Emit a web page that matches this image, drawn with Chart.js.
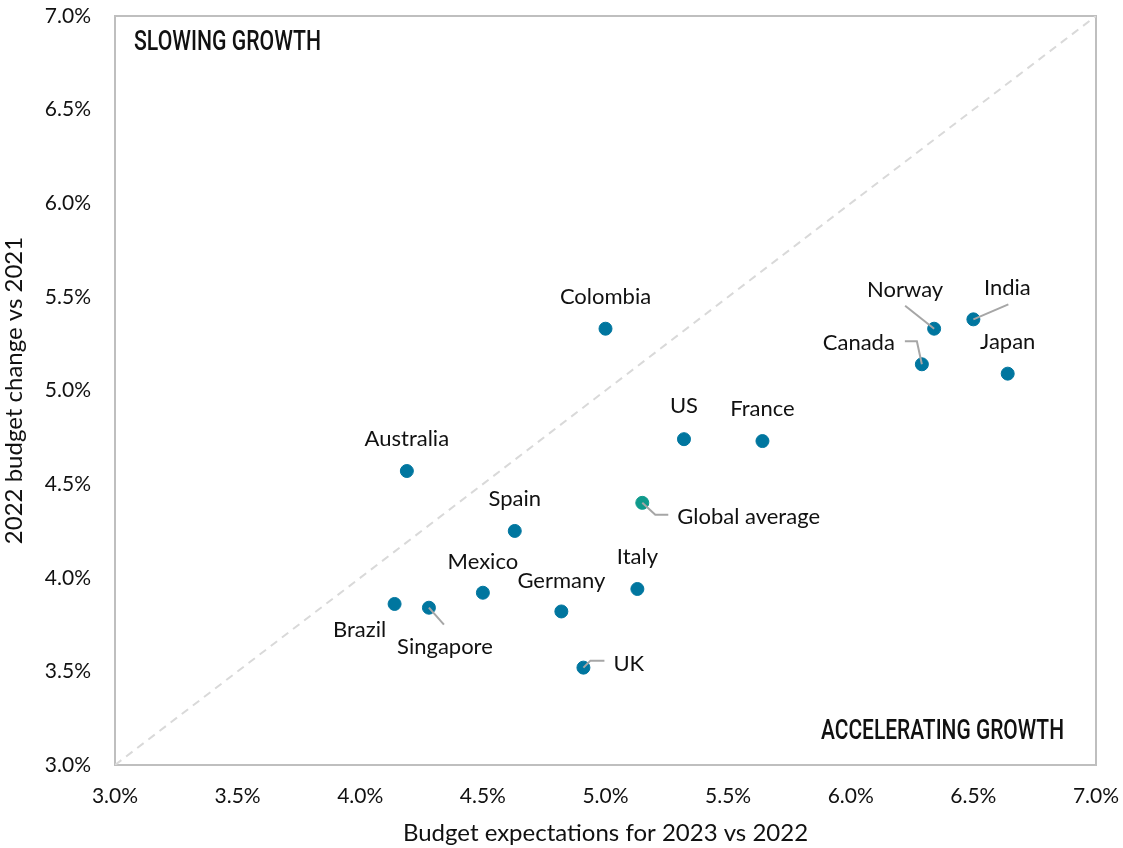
<!DOCTYPE html>
<html>
<head>
<meta charset="utf-8">
<script src="https://cdn.jsdelivr.net/npm/chart.js@4.4.1/dist/chart.umd.min.js"></script>
<style>
  html, body { margin: 0; padding: 0; background: #fff; }
  #wrap { width: 1123px; height: 848px; }
</style>
</head>
<body>
<div id="wrap"><canvas id="chart"></canvas></div>
<script>
// --- Dados ---
const countries = ['Colombia', 'Australia', 'Spain', 'Mexico', 'Brazil', 'Singapore', 'Germany', 'Italy', 'UK',
                   'US', 'France', 'Norway', 'India', 'Canada', 'Japan'];
const budget2023 = [5.00, 4.19, 4.63, 4.50, 4.14, 4.28, 4.82, 5.13, 4.91, 5.32, 5.64, 6.34, 6.50, 6.29, 6.64];
const change2022 = [5.33, 4.57, 4.25, 3.92, 3.86, 3.84, 3.82, 3.94, 3.52, 4.74, 4.73, 5.33, 5.38, 5.14, 5.09];
const globalLabel = 'Global average';
const globalX = [5.15];
const globalY = [4.40];
const axisTicks = [3.0, 3.5, 4.0, 4.5, 5.0, 5.5, 6.0, 6.5, 7.0];

const FONT = 'Lato, "Open Sans", sans-serif';
const BLUE = '#00769f';
const TEAL = '#0f9a8c';

// --- Posição dos rótulos (deslocamento em px a partir do ponto) ---
const labelPos = {
    'Colombia':  { dx: 0, dy: -32 },
    'Australia': { dx: 0, dy: -32 },
    'Spain':     { dx: 0, dy: -32 },
    'Mexico':    { dx: 0, dy: -31 },
    'Germany':   { dx: 0, dy: -31 },
    'Italy':     { dx: 0, dy: -32 },
    'US':        { dx: 0, dy: -33 },
    'France':    { dx: 0, dy: -32 },
    'Japan':     { dx: 0, dy: -32 },
    'Brazil':    { dx: -35, dy: 26 },
    'Singapore': { dx: 16, dy: 39, leader: [[0, 0], [15, 17]] },
    'UK':        { dx: 30, dy: -4, align: 'left', leader: [[0, 0], [7, -7], [21, -7]] },
    'Norway':    { dx: -29, dy: -39, leader: [[0, 0], [-29, -23]] },
    'India':     { dx: 34, dy: -31, leader: [[0, 0], [35, -15]] },
    'Canada':    { dx: -27, dy: -21, align: 'right', leader: [[0, 0], [-5, -23], [-17, -23]] },
    'Global average': { dx: 35, dy: 14, align: 'left', leader: [[0, 0], [13, 12], [26, 12]] }
};

// texto condensado: desenha com escala horizontal até a largura pedida
function condensedText(ctx, text, x, y, width, align) {
    const w = ctx.measureText(text).width;
    const k = width / w;
    ctx.save();
    ctx.translate(align === 'right' ? x - width : x, y);
    ctx.scale(k, 1);
    ctx.textAlign = 'left';
    ctx.fillText(text, 0, 0);
    ctx.restore();
}

const labelsPlugin = {
    id: 'labelsPlugin',
    beforeDatasetsDraw(chart) {
        const { ctx, chartArea: a } = chart;
        ctx.save();
        ctx.strokeStyle = '#bfbfbf';
        ctx.lineWidth = 2;
        ctx.strokeRect(a.left, a.top, a.right - a.left, a.bottom - a.top);
        ctx.restore();
    },
    afterDatasetsDraw(chart) {
        const { ctx, chartArea: a } = chart;
        ctx.save();
        // rótulos dos quadrantes
        ctx.fillStyle = '#111';
        ctx.font = '500 28px Roboto, sans-serif';
        ctx.textBaseline = 'middle';
        condensedText(ctx, 'SLOWING GROWTH', a.left + 19, a.top + 27, 187, 'left');
        condensedText(ctx, 'ACCELERATING GROWTH', a.right - 32, a.bottom - 33, 243, 'right');

        // rótulos dos pontos
        ctx.font = '22px ' + FONT;
        const drawLabel = (name, px, py) => {
            const p = labelPos[name] || { dx: 0, dy: -32 };
            if (p.leader) {
                ctx.strokeStyle = '#a6a6a6';
                ctx.lineWidth = 2;
                ctx.beginPath();
                p.leader.forEach(([lx, ly], i) => {
                    if (i === 0) ctx.moveTo(px + lx, py + ly);
                    else ctx.lineTo(px + lx, py + ly);
                });
                ctx.stroke();
            }
            ctx.fillStyle = '#111';
            ctx.textAlign = p.align || 'center';
            ctx.textBaseline = 'middle';
            ctx.fillText(name, px + p.dx, py + p.dy);
        };
        const m0 = chart.getDatasetMeta(0);
        m0.data.forEach((pt, i) => drawLabel(countries[i], pt.x, pt.y));
        const m1 = chart.getDatasetMeta(1);
        m1.data.forEach((pt, i) => drawLabel(globalLabel, pt.x, pt.y));
        ctx.restore();
    }
};

const ctx = document.getElementById('chart').getContext('2d');
const chart = new Chart(ctx, {
    type: 'scatter',
    data: {
        datasets: [
            {
                label: 'Countries',
                data: countries.map((c, i) => ({ x: budget2023[i], y: change2022[i] })),
                backgroundColor: BLUE,
                borderColor: BLUE,
                pointRadius: 6.5,
                pointHoverRadius: 6.5,
                order: 1
            },
            {
                label: globalLabel,
                data: globalX.map((x, i) => ({ x, y: globalY[i] })),
                backgroundColor: TEAL,
                borderColor: TEAL,
                pointRadius: 6.5,
                pointHoverRadius: 6.5,
                order: 1
            },
            {
                label: 'Parity',
                type: 'line',
                data: [{ x: axisTicks[0], y: axisTicks[0] }, { x: axisTicks[axisTicks.length - 1], y: axisTicks[axisTicks.length - 1] }],
                borderColor: '#d9d9d9',
                borderWidth: 2,
                borderDash: [8, 6],
                pointRadius: 0,
                fill: false,
                order: 5
            }
        ]
    },
    options: {
        responsive: true,
        maintainAspectRatio: false,
        animation: false,
        layout: { padding: { top: 16, right: 27, left: 0, bottom: 0 } },
        plugins: {
            legend: { display: false },
            tooltip: { enabled: false }
        },
        scales: {
            x: {
                type: 'linear',
                min: axisTicks[0],
                max: axisTicks[axisTicks.length - 1],
                afterBuildTicks: s => { s.ticks = axisTicks.map(v => ({ value: v })); },
                afterFit: s => { s.height = 83; s.paddingLeft = 0; s.paddingRight = 0; },
                grid: { display: false },
                border: { display: false },
                ticks: {
                    color: '#111',
                    font: { family: FONT, size: 21 },
                    padding: 11,
                    callback: v => v.toFixed(1) + '%'
                },
                title: {
                    display: true,
                    text: 'Budget expectations for 2023 vs 2022',
                    color: '#111',
                    font: { family: FONT, size: 24 },
                    padding: { top: 4, bottom: 0 }
                }
            },
            y: {
                type: 'linear',
                min: axisTicks[0],
                max: axisTicks[axisTicks.length - 1],
                afterBuildTicks: s => { s.ticks = axisTicks.map(v => ({ value: v })); },
                afterFit: s => { s.width = 115; s.paddingTop = 0; s.paddingBottom = 0; },
                grid: { display: false },
                border: { display: false },
                ticks: {
                    color: '#111',
                    font: { family: FONT, size: 21 },
                    padding: 16,
                    callback: v => v.toFixed(1) + '%'
                },
                title: {
                    display: true,
                    text: '2022 budget change vs 2021',
                    color: '#111',
                    font: { family: FONT, size: 24 },
                    padding: { top: 0, bottom: 0 }
                }
            }
        }
    },
    plugins: [labelsPlugin]
});
</script>
</body>
</html>
